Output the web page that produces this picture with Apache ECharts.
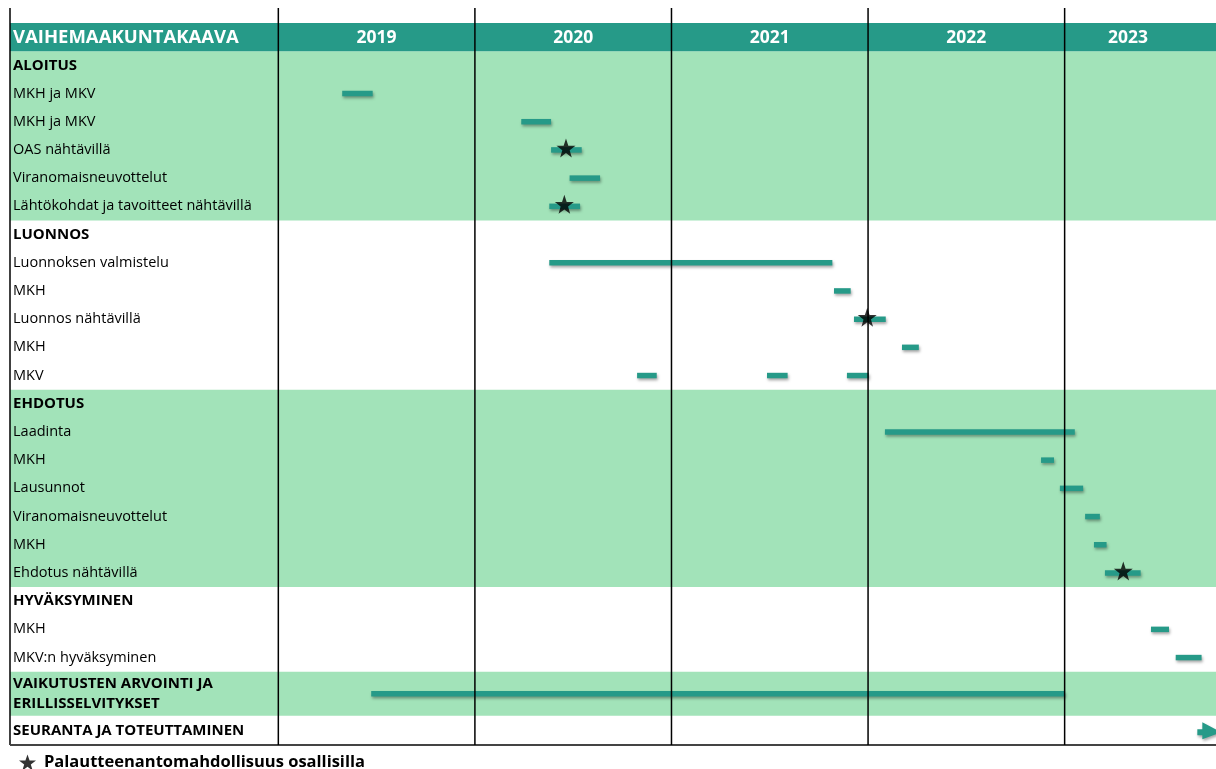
<!DOCTYPE html>
<html><head><meta charset="utf-8">
<script src="https://cdn.jsdelivr.net/npm/echarts@6/dist/echarts.min.js"></script>
<style>html,body{margin:0;padding:0;background:#fff}#c{width:1216px;height:769px}</style>
</head><body><div id="c"></div>
<script>
// ---------- DATA ----------
const chartTitle = 'VAIHEMAAKUNTAKAAVA';
const years = ['2019', '2020', '2021', '2022', '2023'];
const legendLabel = 'Palautteenantomahdollisuus osallisilla';

const sectionTitles = ['ALOITUS', 'LUONNOS', 'EHDOTUS', 'HYVÄKSYMINEN', 'VAIKUTUSTEN ARVOINTI JA\nERILLISSELVITYKSET', 'SEURANTA JA TOTEUTTAMINEN'];
const aloitusItems = ['MKH ja MKV', 'MKH ja MKV', 'OAS nähtävillä', 'Viranomaisneuvottelut', 'Lähtökohdat ja tavoitteet nähtävillä'];
const luonnosItems = ['Luonnoksen valmistelu', 'MKH', 'Luonnos nähtävillä', 'MKH', 'MKV'];
const ehdotusItems = ['Laadinta', 'MKH', 'Lausunnot', 'Viranomaisneuvottelut', 'MKH', 'Ehdotus nähtävillä'];
const hyvaksyminenItems = ['MKH', 'MKV:n hyväksyminen'];
const sectionItems = [aloitusItems, luonnosItems, ehdotusItems, hyvaksyminenItems, [], []];
const sectionShaded = [true, false, true, false, true, false];

// tasks: [row index (0 = ALOITUS title row), start month, end month]; months counted from Jan 2019
const taskRows   = [1, 2, 3, 4, 5, 7, 8, 9, 10, 11, 11, 11, 13, 14, 15, 16, 17, 18, 20, 21, 22];
const taskStarts = [3.9, 14.83, 16.65, 17.78, 16.54, 16.54, 33.92, 35.14, 38.07, 21.9, 29.83, 34.71, 37.03, 46.56, 47.71, 49.25, 49.79, 50.46, 53.27, 54.78, 5.67];
const taskEnds   = [5.76, 16.65, 18.52, 19.64, 18.42, 33.82, 34.94, 37.08, 39.1, 23.1, 31.09, 36.04, 48.62, 47.35, 49.13, 50.15, 50.56, 52.64, 54.37, 56.36, 48.02];
// feedback opportunities (stars)
const starRows = [3, 5, 9, 18];
const starMonths = [17.56, 17.46, 35.95, 51.58];
// continuation arrow
const arrowRow = 23;
const arrowMonth = 56.1;

// ---------- LAYOUT ----------
const X_MIN = -16.38, X_MAX = 57.24;   // label column left of month 0
const Y_MIN = -0.532, Y_MAX = 25.6;
const TALL = 1.56, LAST = 1.04;
const TEAL = '#269a88', GREEN = '#a2e3b9';
const FONT = "'Open Sans', sans-serif";

const rows = [];
const bands = [];
let yy = 1;
sectionTitles.forEach((t, si) => {
  const start = yy;
  const h = si === 4 ? TALL : (si === 5 ? LAST : 1);
  rows.push({ label: t, bold: true, c: yy + h / 2 });
  yy += h;
  sectionItems[si].forEach(it => { rows.push({ label: it, bold: false, c: yy + 0.5 }); yy += 1; });
  bands.push([start, yy, sectionShaded[si] ? 1 : 0]);
});

const taskData = taskRows.map((r, i) => [taskStarts[i], taskEnds[i], rows[r].c]);
const starData = starRows.map((r, i) => [starMonths[i], rows[r].c]);
const yearCenters = years.map((y, i) => i < years.length - 1 ? i * 12 + 6 : (i * 12 + 55.75) / 2);
const starPath = 'path://M50,0 L61.8,35.1 L98.1,35.1 L68.8,56.8 L79.4,91.6 L50,70.5 L20.6,91.6 L31.2,56.8 L1.9,35.1 L38.2,35.1 Z';

const chart = echarts.init(document.getElementById('c'), null, { renderer: 'canvas' });
chart.setOption({
  animation: false,
  grid: { left: 10, right: 0, top: 8, bottom: 24 },
  xAxis: { type: 'value', min: X_MIN, max: X_MAX, show: false },
  yAxis: { type: 'value', min: Y_MIN, max: Y_MAX, inverse: true, show: false },
  legend: {
    left: 14, top: 749, itemWidth: 17, itemHeight: 17, itemGap: 6,
    icon: starPath,
    textStyle: { fontFamily: FONT, fontWeight: 'bold', fontSize: 16.5, color: '#000', padding: [0, 0, 0, 3] },
    data: [legendLabel]
  },
  series: [
    { // section bands
      type: 'custom', z: 1, silent: true,
      data: bands,
      renderItem: (params, api) => {
        if (!api.value(2)) return null;
        const p1 = api.coord([X_MIN, api.value(0)]);
        const p2 = api.coord([X_MAX, api.value(1)]);
        return { type: 'rect', shape: { x: p1[0], y: p1[1], width: p2[0] - p1[0], height: p2[1] - p1[1] }, style: { fill: GREEN } };
      }
    },
    { // header band + title + years
      type: 'custom', z: 2, silent: true,
      data: [[0]],
      renderItem: (params, api) => {
        const p1 = api.coord([X_MIN, 0]);
        const p2 = api.coord([X_MAX, 1]);
        const children = [
          { type: 'rect', shape: { x: p1[0], y: p1[1], width: p2[0] - p1[0], height: p2[1] - p1[1] }, style: { fill: TEAL } },
          { type: 'text', x: p1[0] + 3, y: (p1[1] + p2[1]) / 2 + 1, style: { text: chartTitle, fill: '#fff', font: "bold 18.5px " + FONT, verticalAlign: 'middle', align: 'left' } }
        ];
        years.forEach((y, i) => {
          const p = api.coord([yearCenters[i], 0.5]);
          children.push({ type: 'text', x: p[0], y: p[1] + 1, style: { text: y, fill: '#fff', font: "bold 17.5px " + FONT, verticalAlign: 'middle', align: 'center' } });
        });
        return { type: 'group', children };
      }
    },
    { // row labels
      type: 'custom', z: 2, silent: true,
      data: rows.map(r => [r.c]),
      renderItem: (params, api) => {
        const r = rows[params.dataIndex];
        const p = api.coord([X_MIN, api.value(0)]);
        return { type: 'text', x: p[0] + 3, y: p[1], style: {
          text: r.label, fill: '#000', verticalAlign: 'middle', align: 'left', lineHeight: 20,
          font: (r.bold ? 'bold 15px ' : '14.5px ') + FONT } };
      }
    },
    { // task bars
      type: 'custom', z: 3, silent: true,
      data: taskData,
      encode: { x: [0, 1], y: 2 },
      renderItem: (params, api) => {
        const a = api.coord([api.value(0), api.value(2)]);
        const b = api.coord([api.value(1), api.value(2)]);
        const h = 5.5;
        return { type: 'rect', shape: { x: a[0], y: a[1] - h / 2, width: b[0] - a[0], height: h },
          style: { fill: TEAL, shadowBlur: 3, shadowColor: 'rgba(0,0,0,0.35)', shadowOffsetX: 1, shadowOffsetY: 2 } };
      }
    },
    { // continuation arrow
      type: 'custom', z: 3, silent: true,
      data: [[arrowMonth, rows[arrowRow].c]],
      renderItem: (params, api) => {
        const p = api.coord([api.value(0), api.value(1)]);
        return { type: 'polygon', shape: { points: [
            [p[0], p[1] - 1], [p[0] + 5, p[1] - 1], [p[0] + 5, p[1] - 8], [p[0] + 24, p[1] + 2],
            [p[0] + 5, p[1] + 9], [p[0] + 5, p[1] + 5], [p[0], p[1] + 5]] },
          style: { fill: TEAL, shadowBlur: 3, shadowColor: 'rgba(0,0,0,0.35)', shadowOffsetX: 1, shadowOffsetY: 2 } };
      }
    },
    { // year divider lines + left border + bottom rule
      type: 'custom', z: 4, silent: true, clip: false,
      data: [[X_MIN], [0], [12], [24], [36], [48]],
      renderItem: (params, api) => {
        const a = api.coord([api.value(0), Y_MIN]);
        const b = api.coord([api.value(0), Y_MAX]);
        const children = [{ type: 'line', shape: { x1: a[0], y1: a[1], x2: b[0], y2: b[1] }, style: { stroke: '#000', lineWidth: 1.5 } }];
        if (params.dataIndex === 0) {
          const e = api.coord([X_MAX, Y_MAX]);
          children.push({ type: 'line', shape: { x1: b[0], y1: b[1], x2: e[0], y2: e[1] }, style: { stroke: '#444', lineWidth: 2 } });
        }
        return { type: 'group', children };
      }
    },
    { // feedback stars
      name: legendLabel,
      type: 'scatter', z: 5, silent: true,
      symbol: starPath, symbolSize: 19, symbolOffset: [0, -2],
      itemStyle: { color: '#000' },
      data: starData
    }
  ]
});
</script></body></html>
